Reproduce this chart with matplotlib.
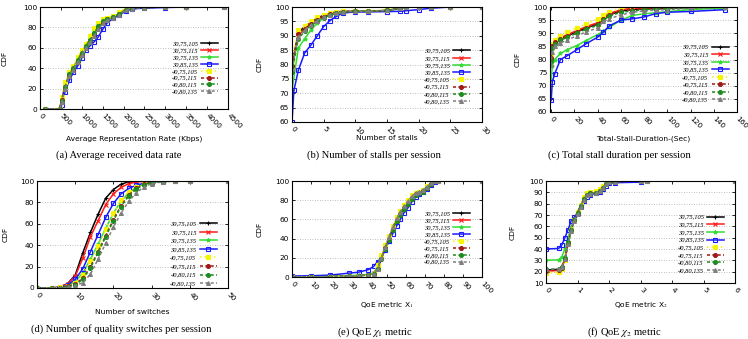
import numpy as np
import matplotlib.pyplot as plt

nan = np.nan

LABELS = ['30,75,105', '30,75,115', '30,75,135', '30,85,135',
          '40,75,105', '40,75,115', '40,80,115', '40,80,135']

# (a) average representation rate (Kbps)
A_X = [120, 470, 520, 600, 700, 800, 900, 1000, 1100, 1200, 1300, 1400, 1500,
       1600, 1750, 1900, 2050, 2200, 2500, 3000, 3500, 4400]
A_Y = [
    [0, 0, 8, 22, 32, 40, 48, 55, 61, 68, 75, 80, 86, 88, 90, 93, 98, 99, 99.5, 100, 100, 100],
    [0, 0, 9, 23, 33, 40, 49, 56, 62, 69, 76, 81, 86, 88, 90, 93, 98, 99, 99.5, 100, 100, 100],
    [0, 0, 7, 21, 33, 39, 48, 55, 62, 69, 76, 82, 87, 88.5, 90, 93, 98, 99, 99.5, 100, 100, 100],
    [0, 0, 4, 17, 28, 36, 42, 50, 58, 62, 66, 71, 78, 84, 89, 92, 96, 98, 99, 99.5, 100, 100],
    [0, 0, 12, 26, 36, 42, 51, 58, 64, 72, 79, 84, 88, 89, 91, 95, 99, 100, 100, 100, 100, 100],
    [0, 0, 9, 22, 33, 39, 47, 54, 61, 67, 74, 80, 85, 88, 90, 93, 97, 99, 99.5, 100, 100, 100],
    [0, 0, 8, 22, 34, 40, 48, 55, 62, 68, 75, 81, 86, 88, 90, 93, 97.5, 99, 99.5, 100, 100, 100],
    [0, 0, 7, 20, 32, 38, 46, 53, 60, 66, 72, 78, 84, 87, 89, 92, 97, 98.5, 99.5, 100, 100, 100],
]

# (b) number of stalls
B_X = [0, 0.3, 1, 2, 3, 4, 5, 6, 7, 8, 10, 12, 15, 17, 18, 20, 22, 25, 30]
B_Y = [
    [80, nan, 91, 93.2, 94.6, 96.2, 97.1, 97.8, 98.3, 98.5, 98.5, 98.5, 98.8, 99.5, 100, 100, 100, 100, 100],
    [79, nan, 90, 92.5, 94.3, 95.8, 96.8, 97.6, 98.2, 98.4, 98.5, 98.5, 98.8, 99.5, 100, 100, 100, 100, 100],
    [71, nan, 85.7, 89, 92, 94.4, 96.2, 97.2, 97.7, 98.2, 98.5, 98.5, 98.8, 99.5, 100, 100, 100, 100, 100],
    [60, 71, 78, 84, 86.8, 90, 93.2, 95.3, 96.7, 97.9, 98.3, 98.3, 98.4, 98.5, 98.7, 99.1, 99.6, 100, 100],
    [81.5, nan, 92, 93.5, 95, 96.5, 97.3, 97.8, 98.3, 98.5, 98.6, 98.7, 99, 99.8, 100, 100, 100, 100, 100],
    [79.5, nan, 90.5, 92.5, 94, 95.5, 96.6, 97.4, 98, 98.3, 98.5, 98.5, 98.8, 99.5, 100, 100, 100, 100, 100],
    [77.5, nan, 89, 91.5, 93.5, 95, 96.3, 97.2, 97.8, 98.2, 98.5, 98.5, 98.8, 99.5, 100, 100, 100, 100, 100],
    [78.5, nan, 89.5, 92, 93.8, 95.3, 96.5, 97.3, 97.9, 98.3, 98.5, 98.5, 98.8, 99.5, 100, 100, 100, 100, 100],
]

# (c) total stall duration (sec)
C_X = [0, 1, 3, 8, 14, 22, 30, 40, 45, 50, 60, 70, 80, 90, 100, 120, 150]
C_Y = [
    [80, 85, 86.5, 87.8, 89, 90.5, 92, 93.5, 95.5, 97, 98.5, 99, 99.3, 99.4, 99.5, 99.8, 100],
    [81, 85.5, 87, 88.3, 89.5, 91, 92.5, 94, 96, 97.5, 99, 99.5, 99.6, 99.7, 99.8, 100, 100],
    [72.3, 77.4, 80, 82.3, 83.8, 85.3, 87.2, 89.5, 90.8, 92.2, 95, 96.8, 97.4, 97.8, 98.2, 99, 99.6],
    [64.4, 71.5, 74.5, 80, 81.5, 83.7, 86, 88.5, 90.5, 92.8, 95, 95.5, 96.2, 97.5, 98, 98.3, 99],
    [82, 86, 87.5, 89, 90.5, 92, 93.5, 95.5, 97, 98, 99.5, 100, 100, 100, 100, 100, 100],
    [80.5, 85, 86.5, 87.8, 89, 90.5, 92, 93.5, 95.5, 97, 98.5, 99, 99.2, 99.4, 99.5, 99.8, 100],
    [79.5, 84.5, 86, 87.3, 88.5, 90, 91.5, 93, 95, 96.5, 98, 98.5, 99, 99.2, 99.3, 99.6, 100],
    [78, 83, 85, 86.3, 87.5, 89, 90.5, 92, 94.5, 95.5, 97, 98, 98.5, 98.8, 99, 99.5, 100],
]

# (d) number of quality switches
D_X = [0, 4, 6, 8, 10, 12, 14, 16, 18, 20, 22, 24, 26, 28, 30, 33, 36, 40, 50]
D_Y = [
    [0, 0, 1, 4, 12, 33, 52, 69, 84, 92, 97, 99.3, 100, 100, 100, 100, 100, 100, 100],
    [0, 0, 1, 4, 11, 28, 48, 63, 78, 88, 94, 97.5, 99, 99.7, 100, 100, 100, 100, 100],
    [0, 0, 0.5, 2, 6, 14, 27, 41, 56, 70, 81, 89, 94, 97.5, 99, 99.5, 100, 100, 100],
    [0, 0, 0.5, 3, 8, 18, 34, 50, 66, 79, 88, 93, 96, 98, 99, 99.5, 100, 100, 100],
    [0, 0, 0.5, 2, 5, 12, 25, 39, 55, 70, 82, 90, 94.5, 97.5, 99, 99.5, 100, 100, 100],
    [0, 0, 0, 1.5, 4, 9, 20, 34, 49, 64, 77, 87, 93, 97, 98.5, 99.5, 100, 100, 100],
    [0, 0, 0, 1, 3, 8, 19, 33, 48, 63, 76, 86, 92.5, 96.5, 98.5, 99.3, 100, 100, 100],
    [0, 0, 0, 0.5, 2, 5, 13, 27, 42, 57, 70, 81, 89, 94.5, 97.5, 99.3, 100, 100, 100],
]

# (e) QoE metric chi1
E_X = [0, 10, 20, 30, 35, 40, 43, 45, 47, 49, 51, 53, 55, 57, 59, 61, 63, 65, 67, 69,
       71, 73, 75, 77, 100]
E_Y = [
    [0, 0.2, 0.5, 1, 1.5, 2, 4, 9, 20, 30, 40, 50, 59, 66, 72, 77, 82, 86, 87.5, 89.5, 93, 97, 99.5, 100, 100],
    [0, 0.2, 0.5, 1, 1.5, 2, 4, 10, 21, 31, 41, 50, 58, 65, 71, 76, 81, 85.5, 87.5, 89.5, 93, 97, 99.5, 100, 100],
    [0, 0.2, 0.6, 1.2, 2, 2.5, 4.5, 9, 19, 29, 39, 49, 57, 64, 70, 76, 81, 85, 87, 89, 92.5, 96.5, 99.3, 100, 100],
    [1, 1.3, 2, 4, 5, 7.5, 11, 16, 20, 28, 37, 45, 53, 60, 67, 72, 78, 83, 86, 88.5, 92, 96, 99, 100, 100],
    [0, 0.1, 0.3, 0.8, 1.2, 1.5, 3, 12, 23, 33, 43, 53, 62, 69, 75, 80, 85, 88, 89, 91, 95, 98.5, 100, 100, 100],
    [0, 0.2, 0.5, 1, 1.5, 2, 3.5, 8, 19, 30, 40, 50, 59, 66, 72, 77, 82, 86, 87.5, 89.5, 93, 97, 99.5, 100, 100],
    [0, 0.2, 0.5, 1, 1.5, 2, 3.5, 8, 19, 29, 39, 49, 58, 65, 71, 76, 81, 85, 87, 89, 92.5, 96.5, 99.5, 100, 100],
    [0, 0.2, 0.5, 1, 1.5, 2, 3, 8, 20, 31, 42, 52, 61, 68, 74, 79, 84, 87, 88.5, 90.5, 94, 98, 100, 100, 100],
]

# (f) QoE metric chi2
F_X = [0, 0.4, 0.5, 0.6, 0.7, 0.8, 0.9, 1.0, 1.1, 1.2, 1.3, 1.4, 1.6, 1.7, 1.8, 1.9,
       2.0, 2.2, 3.0, 3.2, 6.0]
F_Y = [
    [21.5, 22, 24, 31, 45, 57, 66, 72, 78, 84, 88, 89, 89.5, 91, 94, 97, 99, 99.5, 100, 100, 100],
    [20.5, 21, 23, 30, 45, 57, 66, 72, 78, 84, 88, 89, 89.5, 91, 94, 97, 99, 99.5, 100, 100, 100],
    [30, 30.5, 33, 40, 50, 59, 67, 72, 78, 84, 88, 89, 89.5, 91, 94, 97, 99, 99.5, 100, 100, 100],
    [40, 40.5, 43.5, 50, 57, 65, 68, 72, 77, 82, 86, 88, 89, 90.5, 93, 96, 98, 98.5, 99, 100, 100],
    [19, 19.5, 22, 30, 45, 57, 66, 73, 79, 86, 89.5, 90, 91, 93, 96, 99, 100, 100, 100, 100, 100],
    [21, 21.5, 23.5, 31, 45, 57, 66, 72, 78, 84, 88, 89, 89.5, 91, 94, 97, 99, 99.5, 100, 100, 100],
    [22, 22.5, 24.5, 32, 46, 57, 66, 72, 78, 84, 88, 89, 89.5, 91, 94, 97, 99, 99.5, 100, 100, 100],
    [22, 22.5, 24.5, 31, 44, 56, 65, 71, 77, 83, 87.5, 88.5, 89.5, 91, 94, 97, 99, 99.5, 100, 100, 100],
]

COLORS = ['#000000', '#ff1a1a', '#33dd33', '#1a1aff', '#f5f500', '#a01818', '#1e8c1e', '#7f7f7f']
MARKERS = ['+', 'x', '*', 's', 's', 'o', 'o', '^']
STYLES = ['-', '-', '-', '-', (0, (1, 2)), (0, (2, 1.5)), (0, (2, 1.5)), (0, (2, 1.5))]

W, H = 748, 339

panels = [
    dict(box=(40, 7, 228, 109), x=A_X, ys=A_Y, xlim=(0, 4500), ylim=(0, 100),
         xt=range(0, 4501, 500), yt=range(0, 101, 20),
         xl='Average Representation Rate (Kbps)', xly=-0.29, yly=-0.186,
         leg=(0.963, 0.70), ls=0.2, cap='(a) Average received data rate', cx=119, cy=155),
    dict(box=(292, 7, 482, 122), x=B_X, ys=B_Y, xlim=(0, 30), ylim=(60, 100),
         xt=range(0, 31, 5), yt=range(60, 101, 5),
         xl='Number of stalls', xly=-0.14, yly=-0.168,
         leg=(0.953, 0.67), ls=0.25, cap='(b) Number of stalls per session', cx=374, cy=155),
    dict(box=(550, 7, 737, 112), x=C_X, ys=C_Y, xlim=(-1, 160), ylim=(60, 100),
         xt=range(0, 161, 20), yt=range(60, 101, 5),
         xl='Total-Stall-Duration-(Sec)', xly=-0.25, yly=-0.171,
         leg=(0.973, 0.676), ls=0.3, cap='(c) Total stall duration per session', cx=619, cy=155),
    dict(box=(37, 181, 228, 288), x=D_X, ys=D_Y, xlim=(0, 50), ylim=(0, 100),
         xt=range(0, 51, 10), yt=range(0, 101, 20),
         xl='Number of switches', xly=-0.225, yly=-0.162,
         leg=(0.958, 0.655), ls=0.45, cap='(d) Number of quality switches per session', cx=121, cy=329),
    dict(box=(292, 181, 482, 277), x=E_X, ys=E_Y, xlim=(0, 100), ylim=(0, 100),
         xt=range(0, 101, 10), yt=range(0, 101, 20),
         xl='QoE metric X$_1$', xly=-0.29, yly=-0.168,
         leg=(0.953, 0.72), ls=0.2, cap=r'(e) QoE $\chi_1$ metric', cx=375, cy=332),
    dict(box=(546, 181, 735, 283), x=F_X, ys=F_Y, xlim=(0, 6), ylim=(10, 100),
         xt=range(0, 7), yt=range(10, 101, 10),
         xl='QoE metric X$_2$', xly=-0.216, yly=-0.175,
         leg=(0.958, 0.706), ls=0.32, cap=r'(f) QoE $\chi_2$ metric', cx=625, cy=332),
]

plt.rcParams['mathtext.fontset'] = 'stix'
fig = plt.figure(figsize=(W / 100, H / 100), dpi=100)

for p in panels:
    l, t, r, b = p['box']
    ax = fig.add_axes([l / W, 1 - b / H, (r - l) / W, (b - t) / H])
    xs = np.array(p['x'], dtype=float)
    for i, ys in enumerate(p['ys']):
        ys = np.array(ys, dtype=float)
        ok = ~np.isnan(ys)
        mfc = 'none' if i == 3 else COLORS[i]
        ax.plot(xs[ok], ys[ok], color=COLORS[i], ls=STYLES[i], lw=1.1,
                marker=MARKERS[i], ms=2.8, mew=0.8, mfc=mfc, label=LABELS[i])
    ax.set_xlim(p['xlim'])
    ax.set_ylim(p['ylim'])
    ax.set_xticks(list(p['xt']))
    ax.set_yticks(list(p['yt']))
    ax.tick_params(direction='in', length=2.5, width=0.6, labelsize=5.3,
                   top=True, right=True, pad=2)
    for lab in ax.get_xticklabels():
        lab.set_rotation(-45)
        lab.set_ha('left')
        lab.set_va('center')
        lab.set_rotation_mode('anchor')
    ax.tick_params(axis='x', pad=4)
    ax.yaxis.grid(True, ls=(0, (1, 2)), color='#aaaaaa', lw=0.6)
    ax.set_axisbelow(True)
    for s in ax.spines.values():
        s.set_linewidth(0.8)
    ax.set_xlabel(p['xl'], fontsize=5.4)
    ax.xaxis.set_label_coords(0.5, p['xly'])
    ax.xaxis.label.set_va('center')
    ax.set_ylabel('CDF', fontsize=5.4)
    ax.yaxis.set_label_coords(p['yly'], 0.5)
    ax.yaxis.label.set_va('center')
    ax.legend(loc='upper right', bbox_to_anchor=p['leg'], frameon=False,
              markerfirst=False, borderpad=0, labelspacing=p['ls'],
              handlelength=2.6, handletextpad=0.5,
              prop={'family': 'Liberation Serif', 'style': 'italic', 'size': 4.7})
    fig.text(p['cx'] / W, 1 - p['cy'] / H, p['cap'], ha='center', va='center',
             fontsize=7.6, family='Liberation Serif')

fig.savefig('out.png', dpi=100)
